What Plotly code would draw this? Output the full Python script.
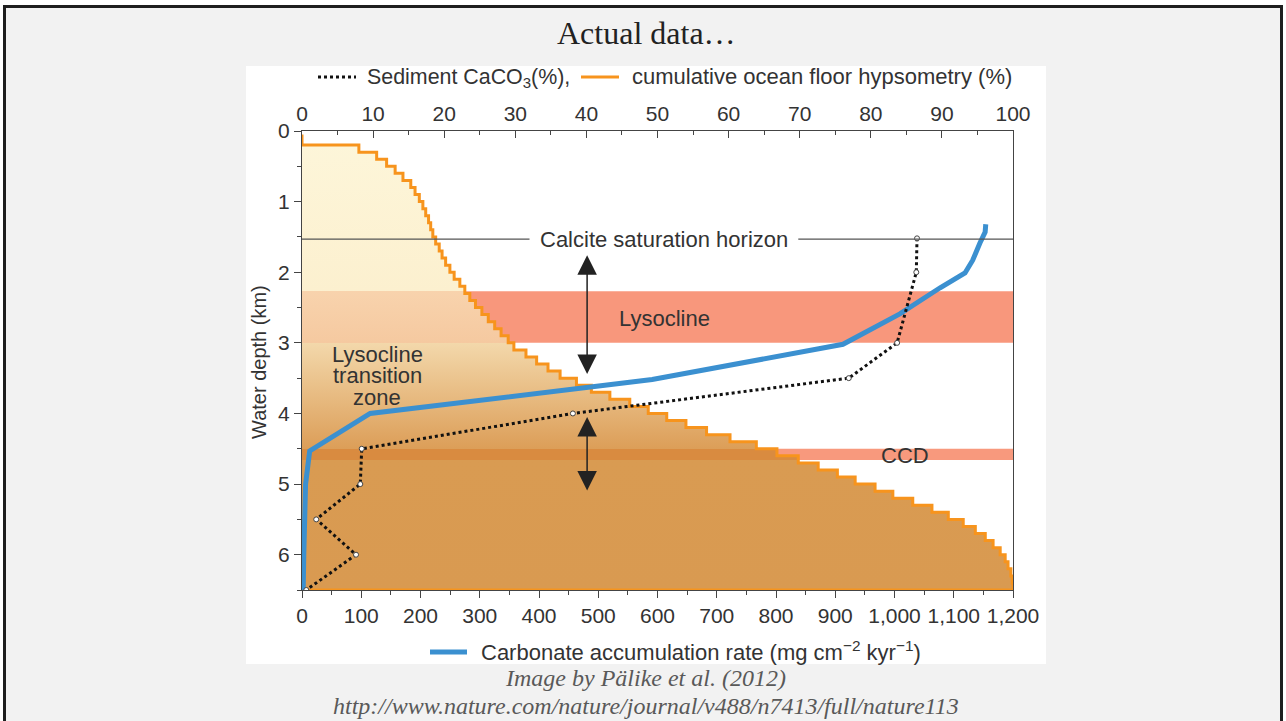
import plotly.graph_objects as go

# ---------------- data ----------------
# cumulative ocean floor hypsometry (%), staircase, one value per 0.1 km depth step
hyps_depth = [0.05, 0.2, 0.3, 0.4, 0.5, 0.6, 0.7, 0.8, 0.9, 1.0,
              1.1, 1.2, 1.3, 1.4, 1.5, 1.6, 1.7, 1.8, 1.9, 2.0,
              2.1, 2.2, 2.3, 2.4, 2.5, 2.6, 2.7, 2.8, 2.9, 3.0,
              3.1, 3.2, 3.3, 3.4, 3.5, 3.6, 3.7, 3.8, 3.9, 4.0,
              4.1, 4.2, 4.3, 4.4, 4.5, 4.6, 4.7, 4.8, 4.9, 5.0,
              5.1, 5.2, 5.3, 5.4, 5.5, 5.6, 5.7, 5.8, 5.9, 6.0,
              6.1, 6.2, 6.3, 6.4, 6.5, 6.5]
hyps_pct = [0.0, 8.0, 10.5, 11.9, 13.1, 14.2, 15.3, 15.9, 16.5, 17.0,
            17.4, 17.8, 18.1, 18.4, 18.8, 19.3, 19.7, 20.2, 20.8, 21.4,
            22.2, 22.9, 23.6, 24.4, 25.3, 26.2, 27.1, 28.0, 29.0, 29.8,
            31.5, 33.0, 34.6, 36.3, 38.6, 40.7, 43.3, 46.1, 48.7, 51.3,
            54.0, 56.9, 60.2, 63.9, 66.8, 69.8, 72.6, 75.3, 77.8, 80.6,
            83.1, 85.9, 88.6, 90.9, 93.0, 94.7, 96.1, 97.2, 98.2, 98.9,
            99.3, 99.7, 99.9, 100.0, 100.0, 0.0]

# sediment CaCO3 (%)
caco3_depth = [1.52, 2.0, 3.0, 3.5, 4.0, 4.5, 5.0, 5.5, 6.0, 6.5]
caco3_pct = [86.5, 86.4, 83.7, 76.9, 38.1, 8.4, 8.2, 2.0, 7.6, 0.6]

# carbonate accumulation rate (mg cm-2 kyr-1)
car_depth = [1.32, 1.43, 1.59, 1.83, 2.01, 2.22, 2.59, 3.02, 3.52, 4.0, 4.53, 5.0, 6.0, 6.5]
car_rate = [1154, 1153, 1144, 1132, 1119, 1077, 1009, 913, 591, 115, 13, 6, 3, 2]

top_ticks = list(range(0, 101, 10))
bottom_ticks = list(range(0, 1201, 100))
depth_ticks = [0, 1, 2, 3, 4, 5, 6]

# annotation zones (depth km)
lysocline_zone = (2.27, 3.0)
ccd_zone = (4.5, 4.66)
calcite_horizon = 1.53

# ---------------- layout helpers ----------------
W, H = 1286, 721
PL, PR, PT, PB = 302, 1013, 131, 590


def px(x):
    return (x - PL) / (PR - PL)


def py(y):
    return (PB - y) / (PB - PT)


SANS = "Liberation Sans, Arial, Helvetica, sans-serif"
SERIF = "Liberation Serif, Times New Roman, serif"
TXT = "#333333"
ORANGE = "#f7941d"
BLUE = "#3b90d0"
AX = "#444444"

fig = go.Figure()

# hypsometry staircase with gradient fill (top % axis, base subplot)
fig.add_trace(go.Scatter(
    x=hyps_pct, y=hyps_depth, xaxis="x2", yaxis="y",
    mode="lines", line=dict(color=ORANGE, width=3, shape="vh"),
    fill="tozerox",
    fillgradient=dict(
        type="vertical", start=0, stop=6.5,
        colorscale=[
            [0.0, "#fdf6da"], [2.27 / 6.5, "#fcf0cf"],
            [2.27 / 6.5, "#f8d3ad"], [3.0 / 6.5, "#f5c9a0"],
            [3.0 / 6.5, "#f3d8ab"], [4.5 / 6.5, "#dc9e58"],
            [4.5 / 6.5, "#d98b40"], [4.66 / 6.5, "#d98b40"],
            [4.66 / 6.5, "#d99b52"], [1.0, "#d99a51"],
        ],
    ),
    hoverinfo="skip", showlegend=False,
))

# carbonate accumulation rate (bottom axis, drawn above the fill)
fig.add_trace(go.Scatter(
    x=car_rate, y=car_depth, xaxis="x", yaxis="y",
    mode="lines", line=dict(color=BLUE, width=5),
    showlegend=False,
))

# sediment CaCO3 (% axis, topmost layer)
fig.add_trace(go.Scatter(
    x=caco3_pct, y=caco3_depth, xaxis="x3", yaxis="y",
    mode="lines+markers",
    line=dict(color="#111111", width=3, dash="dot"),
    marker=dict(size=5, color="white", line=dict(color="#444444", width=1)),
    showlegend=False,
))

shapes = [
    # slide background and border
    dict(type="rect", xref="paper", yref="paper", layer="below",
         x0=px(4.5), x1=px(1281.5), y0=py(740), y1=py(6.5),
         fillcolor="#f2f2f2", line=dict(color="#1e1e1e", width=3)),
    # white picture panel
    dict(type="rect", xref="paper", yref="paper", layer="below",
         x0=px(246), x1=px(1046), y0=py(664), y1=py(66),
         fillcolor="white", line=dict(width=0)),
    # lysocline and CCD bands
    dict(type="rect", xref="x2", yref="y", layer="below",
         x0=0, x1=100, y0=lysocline_zone[0], y1=lysocline_zone[1],
         fillcolor="#f8977c", line=dict(width=0)),
    dict(type="rect", xref="x2", yref="y", layer="below",
         x0=0, x1=100, y0=ccd_zone[0], y1=ccd_zone[1],
         fillcolor="#f8997d", line=dict(width=0)),
    # calcite saturation horizon line (gap for label)
    dict(type="line", xref="x2", yref="y", x0=0, x1=32.0,
         y0=calcite_horizon, y1=calcite_horizon,
         line=dict(color="#555555", width=1.3)),
    dict(type="line", xref="x2", yref="y", x0=69.8, x1=100,
         y0=calcite_horizon, y1=calcite_horizon,
         line=dict(color="#555555", width=1.3)),
    # legend samples
    dict(type="line", xref="paper", yref="paper",
         x0=px(318), x1=px(356), y0=py(77), y1=py(77),
         line=dict(color="#111111", width=3, dash="dot")),
    dict(type="line", xref="paper", yref="paper",
         x0=px(581), x1=px(619), y0=py(77), y1=py(77),
         line=dict(color=ORANGE, width=3)),
    dict(type="line", xref="paper", yref="paper",
         x0=px(430), x1=px(467), y0=py(652), y1=py(652),
         line=dict(color=BLUE, width=5)),
]


def label(text, x, y, size=22, xref="paper", yref="paper", family=SANS,
          color=TXT, xanchor="center", **kw):
    return dict(text=text, xref=xref, yref=yref, x=x, y=y, showarrow=False,
                xanchor=xanchor, yanchor="middle",
                font=dict(family=family, size=size, color=color), **kw)


annotations = [
    label("Actual data…", px(646), py(33), size=32, family=SERIF, color="#222222"),
    label("<i>Image by Pälike et al. (2012)</i>", px(645), py(678), size=24,
          family=SERIF, color="#595959"),
    label("<i>http://www.nature.com/nature/journal/v488/n7413/full/nature113</i>",
          px(646), py(706), size=24, family=SERIF, color="#595959"),
    label("Sediment CaCO<sub>3</sub>(%),", px(365), py(78), size=21.4, xanchor="left"),
    label("cumulative ocean floor hypsometry (%)", px(630), py(77), xanchor="left"),
    label("Carbonate accumulation rate (mg cm<sup>−2</sup> kyr<sup>−1</sup>)",
          px(479), py(651), xanchor="left"),
    label("Water depth (km)", px(259), py(362), size=20, textangle=-90),
    label("Calcite saturation horizon", 50.9, calcite_horizon, xref="x2", yref="y"),
    label("Lysocline", 51.0, 2.65, xref="x2", yref="y"),
    label("CCD", 84.8, 4.59, xref="x2", yref="y"),
    label("Lysocline", 10.6, 3.16, xref="x2", yref="y"),
    label("transition", 10.6, 3.46, xref="x2", yref="y"),
    label("zone", 10.6, 3.77, xref="x2", yref="y"),
    # double-headed arrows
    dict(text="", xref="x2", yref="y", axref="x2", ayref="y",
         x=40.1, y=3.44, ax=40.1, ay=1.74, showarrow=True,
         arrowhead=2, startarrowhead=2, arrowside="end+start",
         arrowsize=2.6, startarrowsize=2.6, arrowwidth=1.5, arrowcolor="#222222"),
    dict(text="", xref="x2", yref="y", axref="x2", ayref="y",
         x=40.1, y=5.09, ax=40.1, ay=4.03, showarrow=True,
         arrowhead=2, startarrowhead=2, arrowside="end+start",
         arrowsize=2.6, startarrowsize=2.6, arrowwidth=1.5, arrowcolor="#222222"),
]

tickfont = dict(family=SANS, size=21, color=TXT)
minor_in = dict(ticks="inside", ticklen=4, tickwidth=1.3, tickcolor=AX)
minor_out = dict(ticks="outside", ticklen=4, tickwidth=1.3, tickcolor=AX)

fig.update_layout(
    width=W, height=H, autosize=False,
    margin=dict(l=PL, r=W - PR, t=PT, b=H - PB, pad=0),
    paper_bgcolor="white", plot_bgcolor="white",
    showlegend=False,
    shapes=shapes, annotations=annotations,
    xaxis2=dict(range=[0, 100], tickvals=top_ticks, side="top", anchor="y",
                ticks="inside", ticklen=7, tickwidth=1.3, tickcolor=AX,
                minor=dict(dtick=5, **minor_in),
                showline=True, linecolor=AX, linewidth=1.3,
                showgrid=False, zeroline=False, tickfont=tickfont, fixedrange=True),
    xaxis=dict(range=[0, 1200], tickvals=bottom_ticks, tickformat=",d",
               overlaying="x2", side="bottom", anchor="y",
               ticks="outside", ticklen=7, tickwidth=1.3, tickcolor=AX,
               minor=dict(dtick=50, **minor_out),
               showline=True, linecolor=AX, linewidth=1.3,
               showgrid=False, zeroline=False, tickfont=tickfont, fixedrange=True),
    xaxis3=dict(range=[0, 100], overlaying="x2", anchor="y", visible=False,
                showgrid=False, zeroline=False, fixedrange=True),
    yaxis=dict(range=[6.5, 0], tickvals=depth_ticks, anchor="x2",
               ticks="outside", ticklen=7, tickwidth=1.3, tickcolor=AX,
               minor=dict(dtick=0.5, **minor_out),
               showline=True, mirror=True, linecolor=AX, linewidth=1.3,
               showgrid=False, zeroline=False, tickfont=tickfont, fixedrange=True),
)

fig.write_html("out.html")
